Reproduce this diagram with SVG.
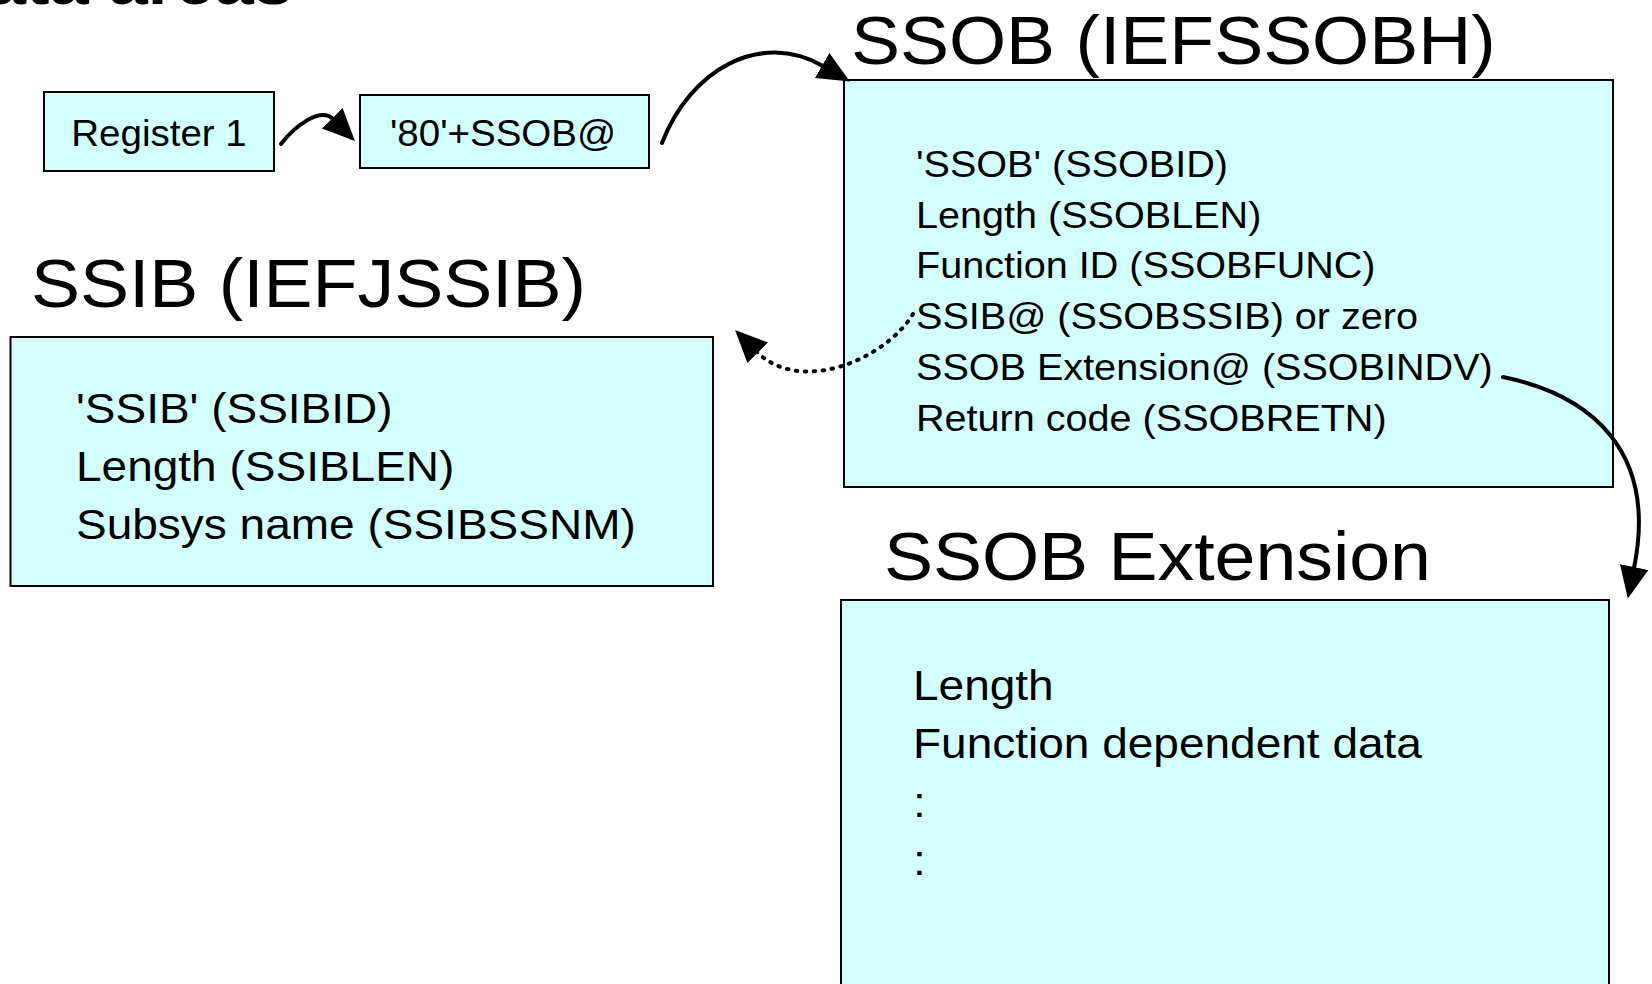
<svg xmlns="http://www.w3.org/2000/svg" width="1652" height="984" viewBox="0 0 1652 984">
  <style>
    .box { fill: #D4FFFF; stroke: #000; stroke-width: 2; }
    .t { font-family: "Liberation Sans", Arial, sans-serif; fill: #000; }
    .title { font-size: 68px; }
    .head { font-size: 66px; font-weight: bold; }
    .small { font-size: 36px; }
    .f37 { font-size: 37px; }
    .f43 { font-size: 43px; }
    .conn { fill: none; stroke: #000; stroke-width: 4; stroke-linecap: round; }
    .dot { stroke-dasharray: 1.5 7.5; }
  </style>
  <defs>
    <marker id="ah" markerUnits="userSpaceOnUse" markerWidth="34" markerHeight="32" viewBox="0 0 34 32" refX="1" refY="15" orient="auto">
      <path d="M0,0.5 L32,15 L0,29.5 Z" fill="#000"/>
    </marker>
  </defs>

  <g id="page-title">
    <text class="t head" text-anchor="end" transform="translate(293,4) scale(1.07 1)">Data areas</text>
  </g>

  <g id="register1">
    <rect class="box" x="44" y="92" width="230" height="79"/>
    <text class="t small" text-anchor="middle" transform="translate(159,146) scale(1.07 1)">Register 1</text>
  </g>

  <g id="ssob-ptr">
    <rect class="box" x="360" y="95" width="289" height="73"/>
    <text class="t small" text-anchor="middle" transform="translate(503,146) scale(1.07 1)">'80'+SSOB@</text>
  </g>

  <g id="ssob">
    <text class="t title" transform="translate(851,64) scale(1.08 1)">SSOB (IEFSSOBH)</text>
    <rect class="box" x="844" y="80" width="769" height="407"/>
    <text class="t f37" transform="translate(916,176.7) scale(1.07 1)">'SSOB' (SSOBID)</text>
    <text class="t f37" transform="translate(916,227.5) scale(1.07 1)">Length (SSOBLEN)</text>
    <text class="t f37" transform="translate(916,278.3) scale(1.07 1)">Function ID (SSOBFUNC)</text>
    <text class="t f37" transform="translate(916,329.1) scale(1.07 1)">SSIB@ (SSOBSSIB) or zero</text>
    <text class="t f37" transform="translate(916,379.9) scale(1.07 1)">SSOB Extension@ (SSOBINDV)</text>
    <text class="t f37" transform="translate(916,430.7) scale(1.07 1)">Return code (SSOBRETN)</text>
  </g>

  <g id="ssib">
    <text class="t title" transform="translate(31,307) scale(1.08 1)">SSIB (IEFJSSIB)</text>
    <rect class="box" x="10.5" y="337" width="702.5" height="249"/>
    <text class="t f43" transform="translate(76,422.5) scale(1.07 1)">'SSIB' (SSIBID)</text>
    <text class="t f43" transform="translate(76,480.5) scale(1.07 1)">Length (SSIBLEN)</text>
    <text class="t f43" transform="translate(76,538.5) scale(1.07 1)">Subsys name (SSIBSSNM)</text>
  </g>

  <g id="ssob-extension">
    <text class="t title" transform="translate(884,580) scale(1.08 1)">SSOB Extension</text>
    <rect class="box" x="841" y="600" width="768" height="395"/>
    <text class="t f43" transform="translate(913,699.5) scale(1.07 1)">Length</text>
    <text class="t f43" transform="translate(913,757.5) scale(1.07 1)">Function dependent data</text>
    <text class="t f43" transform="translate(913,816.5) scale(1.07 1)">:</text>
    <text class="t f43" transform="translate(913,875) scale(1.07 1)">:</text>
  </g>

  <g id="connectors">
    <path class="conn" d="M281,144 C293,128 320,106 333,119" marker-end="url(#ah)"/>
    <path class="conn" d="M662,143 C690,70 760,30 823,66" marker-end="url(#ah)"/>
    <path class="conn dot" d="M913,314 C885,360 800,395 757,352" marker-end="url(#ah)"/>
    <path class="conn" d="M1503,377 C1590,395 1658,450 1634,568" marker-end="url(#ah)"/>
  </g>
</svg>
